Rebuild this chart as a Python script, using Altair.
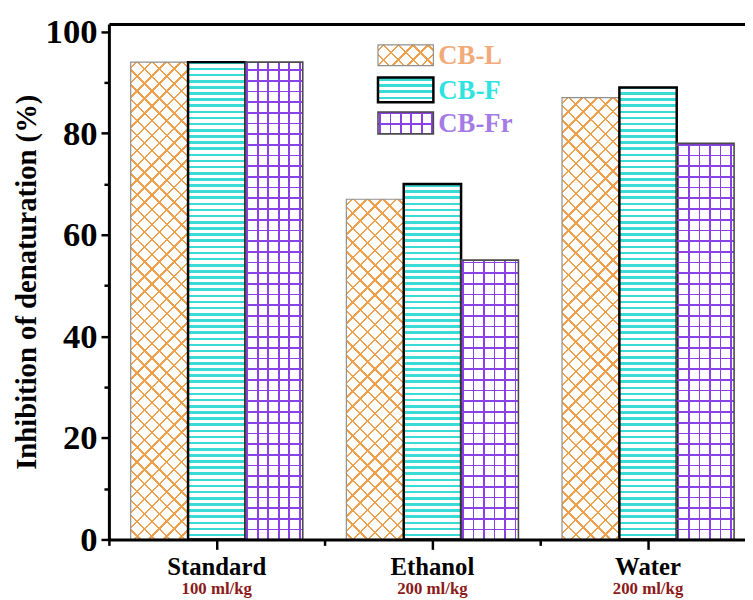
import math
import altair as alt
import pandas as pd

# ---------------- data ----------------
categories = ["Standard", "Ethanol", "Water"]
doses = ["100 ml/kg", "200 ml/kg", "200 ml/kg"]
series = ["CB-L", "CB-F", "CB-Fr"]
cbl_values = [94, 67, 87]
cbf_values = [94, 70, 89]
cbfr_values = [94, 55, 78]
y_major = [0, 20, 40, 60, 80, 100]
y_minor = [10, 30, 50, 70, 90]

values = {"CB-L": cbl_values, "CB-F": cbf_values, "CB-Fr": cbfr_values}
rows = []
for s in series:
    for c, v in zip(categories, values[s]):
        rows.append({"category": c, "series": s, "value": v})
df = pd.DataFrame(rows)
df_dose = pd.DataFrame({"category": categories, "dose": doses})
df_leg = pd.DataFrame({"series": series})

# ---------------- layout ----------------
W, H = 654, 521          # plot area runs past the right edge of the page, like the reference
VISIBLE_W = 643
STEP = W / len(categories)
Y_MAX = 101.5
OUTER = 0.38
BAR_W = STEP / (len(series) + 2 * OUTER)
PX = H / Y_MAX
FONT = "Liberation Serif"
CLEAR = "rgba(255,255,255,0)"

ORANGE = "#EFA04C"
CYAN = "#3ADBD5"
PURPLE = "#8A42E6"


def stripes(n, frac, color, x1, y1, x2, y2, phase=0.0):
    stops = [{"offset": 0, "color": CLEAR}]
    k = 0
    while True:
        a = (k + phase) / n
        if a >= 1:
            break
        b = min((k + phase + frac) / n, 1.0)
        if b > 0:
            a = max(a, 0.0)
            stops += [
                {"offset": round(a, 5), "color": CLEAR},
                {"offset": round(a, 5), "color": color},
                {"offset": round(b, 5), "color": color},
                {"offset": round(b, 5), "color": CLEAR},
            ]
        k += 1
    stops.append({"offset": 1, "color": CLEAR})
    return {"gradient": "linear", "x1": x1, "y1": y1, "x2": x2, "y2": y2, "stops": stops}


def diag(w, h, spacing, lw, color, flip, phase=0.3):
    r = w / h
    s = (r + 1) / (r * r + 1)
    n = (w + h) / spacing
    frac = lw * math.sqrt(2) / spacing
    if not flip:
        return stripes(n, frac, color, 0, 0, s * r, s, phase)
    return stripes(n, frac, color, 1, 0, 1 - s * r, s, phase)


def patterns(sname, w, h):
    if sname == "CB-L":
        return [diag(w, h, 15, 1.7, ORANGE, False), diag(w, h, 15, 1.7, ORANGE, True)]
    if sname == "CB-F":
        return [stripes(h / 6.2, 2.6 / 6.2, CYAN, 0, 1, 0, 0, 0.5)]
    return [stripes(w / 10.6, 1.7 / 10.6, PURPLE, 0, 0, 1, 0, 0.1),
            stripes(h / 10.8, 1.7 / 10.8, PURPLE, 0, 1, 0, 0, 0.85)]


strokes = {"CB-L": ("#8f8f8f", 1.2), "CB-F": ("#000000", 2.5), "CB-Fr": ("#4a4a4a", 1.6)}
leg_colors = {"CB-L": "#F2AA78", "CB-F": "#2EE3E0", "CB-Fr": "#A47BE6"}

x_scale = alt.Scale(domain=categories, paddingInner=0, paddingOuter=0)
xo_scale = alt.Scale(domain=series, paddingInner=0, paddingOuter=OUTER)
y_scale = alt.Scale(domain=[0, Y_MAX], nice=False, zero=True)


def enc_x(axis=None):
    return alt.X("category:N", sort=categories, scale=x_scale, axis=axis)


def enc_y(axis=None):
    return alt.Y("value:Q", scale=y_scale, axis=axis)


xo = alt.XOffset("series:N", sort=series, scale=xo_scale)

layers = []

# axis holders (invisible)
main_axes = alt.Chart(df).mark_bar(opacity=0).encode(
    x=enc_x(alt.Axis(orient="bottom", title=None, labelFont=FONT, labelFontWeight="bold",
                     labelFontSize=25, labelColor="black", labelAngle=0,
                     labelBaseline="alphabetic", labelPadding=25,
                     tickSize=10, tickWidth=2.5, tickColor="black",
                     domainColor="black", domainWidth=3, zindex=1)),
    xOffset=xo,
    y=enc_y(alt.Axis(orient="left", values=y_major, title="Inhibition of denaturation (%)",
                     titleFont=FONT, titleFontWeight="bold", titleFontSize=29, titleColor="black",
                     titlePadding=4, labelFont=FONT, labelFontWeight="bold", labelFontSize=35,
                     labelColor="black", labelPadding=4, tickSize=8, tickWidth=2.5,
                     tickColor="black", domainColor="black", domainWidth=3, grid=False,
                     zindex=1)),
)
layers.append(main_axes)

# bars with patterns
for s in series:
    col, sw = strokes[s]
    for c, v in zip(categories, values[s]):
        pats = patterns(s, BAR_W, v * PX)
        for i, g in enumerate(pats):
            last = i == len(pats) - 1
            kw = {"fill": g}
            if last:
                kw.update(stroke=col, strokeWidth=sw)
            else:
                kw.update(strokeWidth=0)
            layers.append(
                alt.Chart(df)
                .transform_filter((alt.datum.category == c) & (alt.datum.series == s))
                .mark_bar(**kw)
                .encode(x=enc_x(), xOffset=xo, y=enc_y())
            )

minor_axes = alt.Chart(df).mark_bar(opacity=0).encode(
    x=enc_x(alt.Axis(orient="bottom", title=None, labels=False, domain=False, tickBand="extent",
                     tickSize=6, tickWidth=2.5, tickColor="black", zindex=1)),
    xOffset=xo,
    y=enc_y(alt.Axis(orient="left", title=None, labels=False, domain=False, values=y_minor,
                     tickSize=5, tickWidth=2.5, tickColor="black", grid=False, zindex=1)),
)
layers.append(minor_axes)

# dose sub-labels + top frame axis
dose_text = alt.Chart(df_dose).mark_text(
    font=FONT, fontWeight="bold", fontSize=17, color="#8B1A1A", baseline="alphabetic"
).encode(
    x=enc_x(alt.Axis(orient="top", title=None, labels=False, ticks=False, domainColor="black",
                     domainWidth=3, zindex=1)),
    y=alt.value(H + 55),
    text="dose:N",
)
layers.append(dose_text)

# legend
leg_box = {"CB-L": (21, 42), "CB-F": (54, 79), "CB-Fr": (89, 111)}
LX0, LX1 = 272, 328
for s in series:
    y0, y1 = leg_box[s]
    col, sw = strokes[s]
    pats = patterns(s, LX1 - LX0, y1 - y0)
    for i, g in enumerate(pats):
        last = i == len(pats) - 1
        kw = {"fill": g}
        if last:
            kw.update(stroke=col, strokeWidth=sw)
        else:
            kw.update(strokeWidth=0)
        layers.append(
            alt.Chart(df_leg).transform_filter(alt.datum.series == s).mark_rect(**kw).encode(
                x=alt.value(LX0), x2=alt.value(LX1), y=alt.value(y0), y2=alt.value(y1)
            )
        )
    layers.append(
        alt.Chart(df_leg).transform_filter(alt.datum.series == s).mark_text(
            font=FONT, fontWeight="bold", fontSize=27, color=leg_colors[s],
            align="left", baseline="middle"
        ).encode(x=alt.value(LX1 + 5), y=alt.value((y0 + y1) / 2 + 1), text="series:N")
    )

chart = (
    alt.layer(*layers)
    .resolve_axis(x="independent", y="independent")
    .properties(
        width=W, height=H,
        autosize=alt.AutoSizeParams(type="none"),
        padding={"left": 102, "top": 13, "right": VISIBLE_W - W, "bottom": 58},
        background="white",
    )
    .configure_view(strokeWidth=0)
)

chart.save("out.html", embed_options={"renderer": "svg", "actions": False})
